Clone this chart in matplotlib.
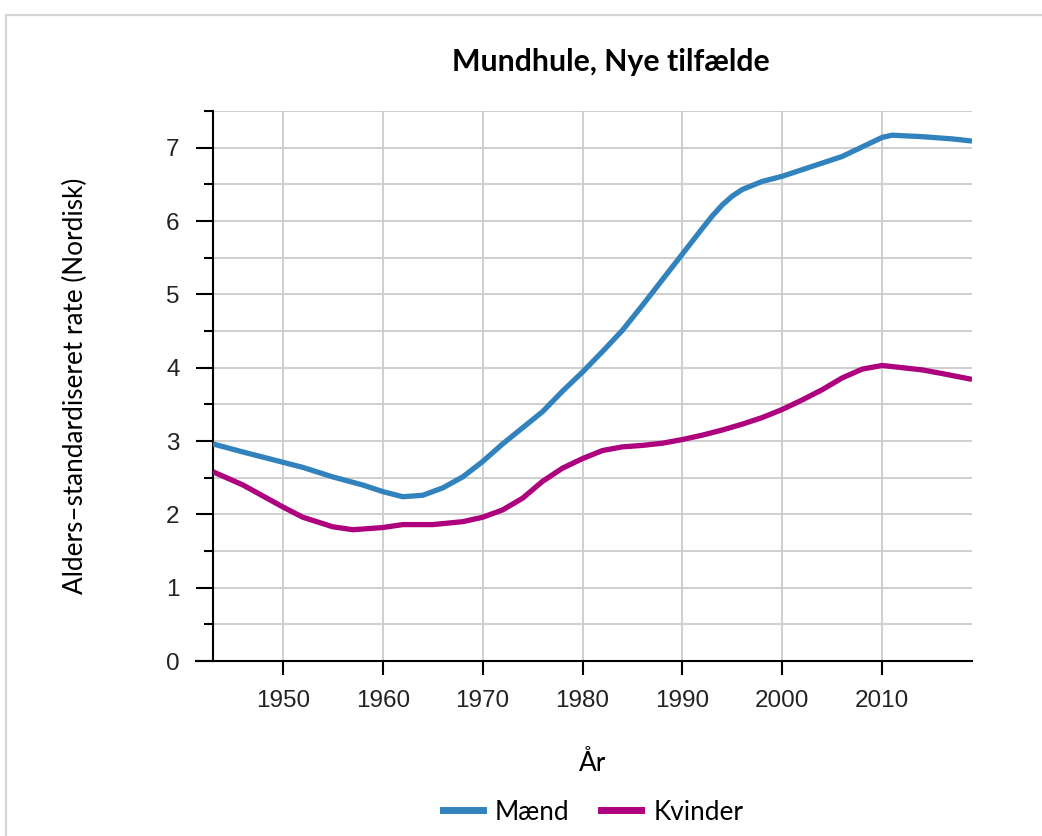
import matplotlib.pyplot as plt
from matplotlib.lines import Line2D
from matplotlib.patches import Rectangle

# data
years_maend = [1943, 1946, 1950, 1952, 1955, 1958, 1960, 1962, 1964, 1966, 1968,
               1970, 1972, 1974, 1976, 1978, 1980, 1982, 1984, 1986, 1988, 1990,
               1992, 1993, 1994, 1995, 1996, 1998, 2000, 2002, 2004, 2006, 2008,
               2010, 2011, 2014, 2017, 2019]
rate_maend = [2.96, 2.85, 2.71, 2.64, 2.51, 2.40, 2.31, 2.24, 2.26, 2.36, 2.51,
              2.72, 2.96, 3.18, 3.40, 3.68, 3.94, 4.22, 4.51, 4.85, 5.20, 5.55,
              5.90, 6.07, 6.22, 6.34, 6.43, 6.54, 6.61, 6.70, 6.79, 6.88, 7.01,
              7.14, 7.17, 7.15, 7.12, 7.09]

years_kvinder = [1943, 1946, 1950, 1952, 1955, 1957, 1960, 1962, 1965, 1968, 1970,
                 1972, 1974, 1976, 1978, 1980, 1982, 1984, 1986, 1988, 1990, 1992,
                 1994, 1996, 1998, 2000, 2002, 2004, 2006, 2008, 2010, 2012, 2014,
                 2016, 2019]
rate_kvinder = [2.58, 2.40, 2.10, 1.96, 1.83, 1.79, 1.82, 1.86, 1.86, 1.90, 1.96,
                2.06, 2.22, 2.45, 2.63, 2.76, 2.87, 2.92, 2.94, 2.97, 3.02, 3.08,
                3.15, 3.23, 3.32, 3.43, 3.56, 3.70, 3.86, 3.98, 4.03, 4.00, 3.97,
                3.92, 3.84]

x_ticks = [1950, 1960, 1970, 1980, 1990, 2000, 2010]
y_ticks = [0, 1, 2, 3, 4, 5, 6, 7]

BLUE = "#3182bd"
PINK = "#ae017e"
GRID = "#cccccc"
LABEL_FONT = "Lato"
TICK_FONT = "Liberation Sans"


def main():
    fig = plt.figure(figsize=(10.42, 8.36), dpi=100)
    fig.patches.append(Rectangle((6 / 1042, -0.1), 1.2, (836 - 15) / 836 + 0.1,
                                 transform=fig.transFigure, fill=False,
                                 edgecolor="#d6d6d6", linewidth=1.6))

    ax = fig.add_axes([213 / 1042, 175 / 836, 759 / 1042, 550 / 836])

    ax.plot(years_maend, rate_maend, color=BLUE, lw=3.8,
            solid_joinstyle="round", solid_capstyle="butt", zorder=3)
    ax.plot(years_kvinder, rate_kvinder, color=PINK, lw=3.8,
            solid_joinstyle="round", solid_capstyle="butt", zorder=3)

    ax.set_xlim(1943, 2019)
    ax.set_ylim(0, 7.5)
    ax.set_xticks(x_ticks)
    ax.set_yticks(y_ticks)
    ax.set_yticks([v + 0.5 for v in y_ticks], minor=True)

    ax.grid(True, which="major", color=GRID, lw=1.3)
    ax.grid(True, which="minor", axis="y", color=GRID, lw=1.3)
    ax.set_axisbelow(True)

    for s in ["top", "right"]:
        ax.spines[s].set_visible(False)
    for s in ["left", "bottom"]:
        ax.spines[s].set_linewidth(1.5)
    # x-axis line runs a little past the y axis in the original
    ax.add_line(Line2D([-17 / 759, 0], [0, 0], transform=ax.transAxes,
                       color="black", lw=1.5, clip_on=False))

    ax.tick_params(axis="x", which="major", length=10, width=1.5, pad=11)
    ax.tick_params(axis="y", which="major", length=12, width=1.5, pad=12)
    ax.tick_params(axis="y", which="minor", length=6.5, width=1.5)
    for lab in ax.get_xticklabels() + ax.get_yticklabels():
        lab.set_fontfamily(TICK_FONT)
        lab.set_fontsize(17.5)
        lab.set_color("#222222")

    ax.set_xlabel("År", fontfamily=LABEL_FONT, fontsize=18.8, labelpad=28)
    ax.set_ylabel("Alders–standardiseret rate (Nordisk)",
                  fontfamily=LABEL_FONT, fontsize=18.8, labelpad=56)

    fig.text(611 / 1042, 1 - 62 / 836, "Mundhule, Nye tilfælde",
             fontfamily=LABEL_FONT, fontweight="bold", fontsize=21.8,
             ha="center", va="center")

    handles = [Line2D([], [], color=BLUE, lw=5),
               Line2D([], [], color=PINK, lw=5)]
    fig.legend(handles, ["Mænd", "Kvinder"], loc="center",
               bbox_to_anchor=(593 / 1042, 1 - 812 / 836), ncol=2,
               frameon=False, handlelength=1.55, handletextpad=0.45,
               columnspacing=1.2, prop={"family": LABEL_FONT, "size": 18.8})

    fig.savefig("out.png", dpi=100)


if __name__ == "__main__":
    main()
